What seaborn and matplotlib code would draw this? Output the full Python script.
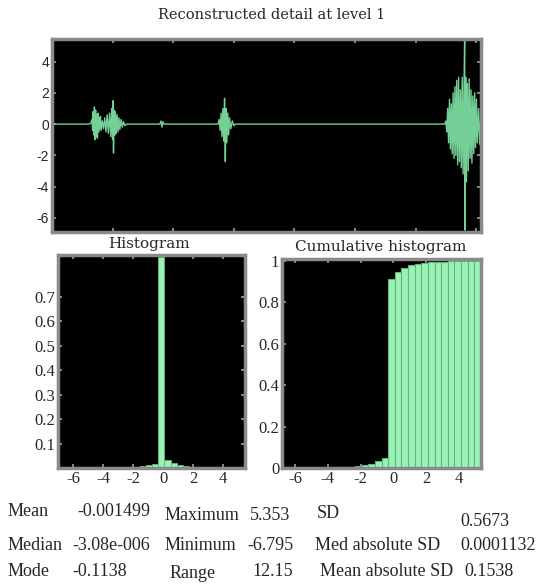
import numpy as np
import pandas as pd
import matplotlib
matplotlib.use("Agg")
import matplotlib.pyplot as plt
import seaborn as sns

# ---------------- data ----------------
signal_x = [0, 600, 640,
            660, 670, 680, 690, 700, 710, 720, 730, 740, 750, 760, 770, 780, 790, 800, 810,
            830, 850, 870, 890, 910, 930, 950, 970, 985, 1000, 1007, 1015, 1025, 1035, 1045,
            1060, 1075, 1090, 1105, 1120, 1140, 1160, 1180, 1205, 1230,
            1780, 1800, 1815, 1830, 1850,
            2740, 2760, 2775, 2790, 2805, 2820, 2835, 2848, 2860, 2872, 2885, 2900, 2915,
            2930, 2950, 2975, 3000, 3030,
            6480, 6500, 6515, 6530, 6545, 6560, 6575, 6590, 6605, 6620, 6635, 6650, 6665,
            6680, 6695, 6710, 6725, 6740, 6755, 6770, 6785, 6800, 6810, 6818, 6828, 6840,
            6855, 6870, 6885, 6900, 6915, 6930, 6945, 6960, 6975, 6990, 7005, 7020, 7040,
            7060, 7080]
signal_y = [0.0, 0.0, 0.05,
            0.3, -0.4, 0.8, -0.7, 1.1, -1.0, 0.9, -0.8, 0.6, -0.9, 0.7, -0.5, 0.4, -0.3, 0.5, -0.4,
            0.2, -0.3, 0.4, -0.5, 0.6, -0.6, 0.7, -0.8, 1.0, -1.0, 1.5, -1.85, 0.9, -0.7, 0.8,
            -0.6, 0.6, -0.5, 0.4, -0.35, 0.3, -0.2, 0.15, -0.1, 0.0,
            0.0, 0.2, -0.2, 0.15, 0.0,
            0.0, 0.3, -0.4, 0.7, -0.8, 1.0, -1.1, 1.65, -2.4, 1.0, -1.2, 0.7, -0.7,
            0.4, -0.3, 0.2, -0.1, 0.0,
            0.0, 0.2, -0.5, 1.0, -1.2, 1.6, -1.6, 1.3, -1.9, 2.0, -2.2, 2.4, -2.0,
            2.8, -2.6, 3.0, -2.4, 2.2, -2.8, 3.0, -3.2, 2.5, 5.353, -6.795, 3.0, -3.7,
            2.6, -3.0, 2.9, -2.2, 2.2, -2.5, 1.8, -1.9, 2.0, -1.5, 1.6, -1.2, 1.0,
            -1.3, 0.9]

# relative frequencies of 30 histogram bins between the minimum and the maximum
hist_values = [0.0002, 0.0001, 0.0001, 0.0001, 0.0002, 0.0002, 0.0003, 0.0005, 0.0008, 0.0012,
               0.002, 0.003, 0.005, 0.008, 0.011, 0.017, 0.862, 0.034, 0.021, 0.013,
               0.008, 0.004, 0.003, 0.002, 0.001, 0.0008, 0.0005, 0.0004, 0.0003, 0.0003]

data_min = -6.795
data_max = 5.353

stat_names_1 = ["Mean", "Median", "Mode"]
stat_vals_1 = ["-0.001499", "-3.08e-006", "-0.1138"]
stat_names_2 = ["Maximum", "Minimum", "Range"]
stat_vals_2 = ["5.353", "-6.795", "12.15"]
stat_names_3 = ["SD", "Med absolute SD", "Mean absolute SD"]
stat_vals_3 = ["0.5673", "0.0001132", "0.1538"]

hist_yticks = [0.1, 0.2, 0.3, 0.4, 0.5, 0.6, 0.7]
cum_yticks = [0, 0.2, 0.4, 0.6, 0.8, 1]
cum_ytick_labels = ["0", "0.2", "0.4", "0.6", "0.8", "1"]
hist_xticks = [-6, -4, -2, 0, 2, 4]
top_yticks = [-6, -4, -2, 0, 2, 4]
top_xticks = [1000, 2000, 3000, 4000, 5000, 6000, 7000]

# ---------------- style ----------------
sns.set_theme(style="dark", rc={"axes.facecolor": "black", "figure.facecolor": "white"})
plt.rcParams["font.family"] = ["Liberation Serif", "DejaVu Serif"]

W, H = 537, 585
fig = plt.figure(figsize=(W / 100, H / 100), dpi=100)

def px_axes(left, top, right, bottom):
    return fig.add_axes([left / W, 1 - bottom / H, (right - left) / W, (bottom - top) / H])

line_col = "#74d096"
bar_col = "#9cf2b5"
edge_col = "#5fb880"
frame_col = "#8a8a8a"

def frame(ax):
    for s in ax.spines.values():
        s.set_visible(True)
        s.set_color(frame_col)
        s.set_linewidth(2.5)
    ax.tick_params(which="both", direction="in", length=3, color="#9a9a9a",
                   top=True, right=True, bottom=True, left=True, pad=2)
    ax.grid(False)
    ax.set_xlabel("")
    ax.set_ylabel("")

# ---------------- top signal ----------------
ax_top = px_axes(52, 39, 481, 232)
df_sig = pd.DataFrame({"x": signal_x, "y": signal_y})
sns.lineplot(data=df_sig, x="x", y="y", ax=ax_top, color=line_col, linewidth=1.0, estimator=None)
ax_top.set_xlim(0, 7080)
ax_top.set_ylim(data_min - 0.12, data_max + 0.1)
ax_top.set_yticks(top_yticks)
ax_top.set_yticklabels([str(t) for t in top_yticks], family="Liberation Sans", fontsize=10)
ax_top.set_xticks(top_xticks)
ax_top.set_xticklabels([])
frame(ax_top)

fig.text(272 / W, 1 - 15 / H, "Reconstructed detail at level 1", ha="center", va="center",
         fontsize=10.5, family="DejaVu Serif")

# ---------------- histogram ----------------
nbins = len(hist_values)
edges = np.linspace(data_min, data_max, nbins + 1)
centers = (edges[:-1] + edges[1:]) / 2
df_h = pd.DataFrame({"c": centers, "w": hist_values})

ax_h = px_axes(58, 255, 245, 468)
sns.histplot(data=df_h, x="c", weights="w", bins=nbins, binrange=(data_min, data_max),
             ax=ax_h, color=bar_col, edgecolor=edge_col, linewidth=0.6, alpha=1)
ax_h.set_xlim(-7.0, 5.45)
ax_h.set_ylim(0, 0.87)
ax_h.set_yticks(hist_yticks)
ax_h.set_yticklabels([f"{t:.1f}" for t in hist_yticks], fontsize=12)
ax_h.set_xticks(hist_xticks)
ax_h.set_xticklabels([str(t) for t in hist_xticks], fontsize=12)
frame(ax_h)
fig.text(149 / W, 1 - 244 / H, "Histogram", ha="center", va="center",
         fontsize=11, family="DejaVu Serif")

# ---------------- cumulative histogram ----------------
ax_c = px_axes(282, 259, 481, 468)
sns.histplot(data=df_h, x="c", weights="w", bins=nbins, binrange=(data_min, data_max),
             cumulative=True, ax=ax_c, color=bar_col, edgecolor=edge_col, linewidth=0.8, alpha=1)
ax_c.set_xlim(data_min, data_max)
ax_c.set_ylim(0, 1.01)
ax_c.set_yticks(cum_yticks)
ax_c.set_yticklabels(cum_ytick_labels, fontsize=12)
ax_c.set_xticks(hist_xticks)
ax_c.set_xticklabels([str(t) for t in hist_xticks], fontsize=12)
frame(ax_c)
fig.text(381 / W, 1 - 247 / H, "Cumulative histogram", ha="center", va="center",
         fontsize=11, family="DejaVu Serif")

# ---------------- statistics ----------------
stat_fs = 13
col1_pos = [(8, 512), (8, 545), (8, 572)]
col2_pos = [(77, 512), (72, 545), (72, 572)]
col3_pos = [(165, 515), (165, 545), (170, 573)]
col4_pos = [(250, 515), (247, 546), (252, 572)]
col5_pos = [(317, 513), (315, 545), (320, 572)]
col6_pos = [(460, 522), (460, 545), (464, 572)]
for names, positions in [(stat_names_1, col1_pos), (stat_vals_1, col2_pos),
                         (stat_names_2, col3_pos), (stat_vals_2, col4_pos),
                         (stat_names_3, col5_pos), (stat_vals_3, col6_pos)]:
    for txt, (px, py) in zip(names, positions):
        fig.text(px / W, 1 - py / H, txt, ha="left", va="center", fontsize=stat_fs)

fig.savefig("out.png", dpi=100)
